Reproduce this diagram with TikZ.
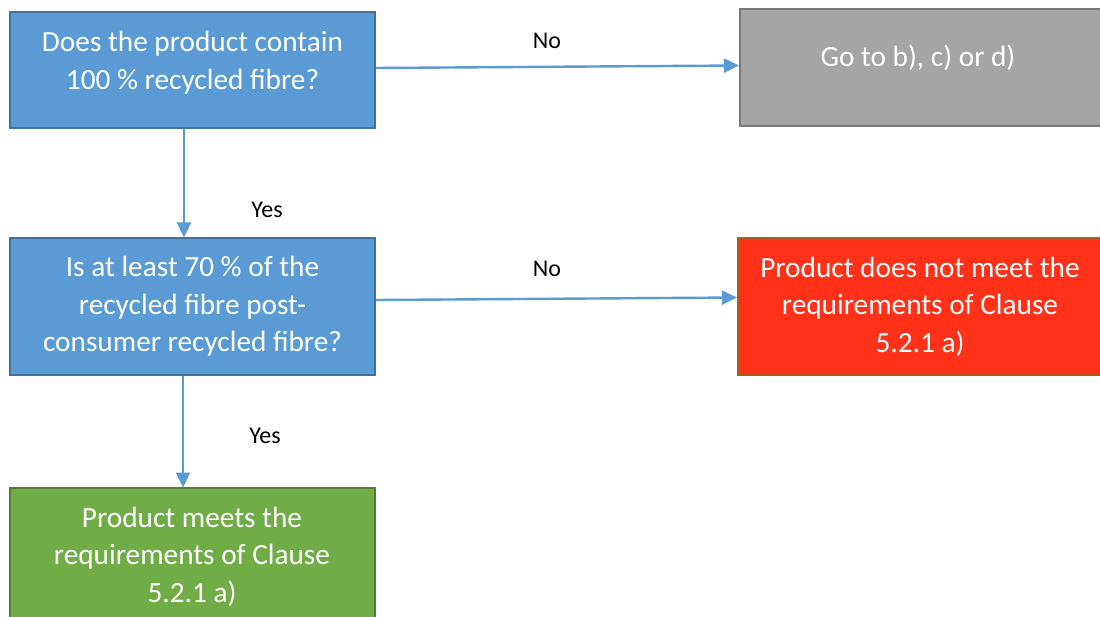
\documentclass[tikz,border=0pt]{standalone}
\usepackage{fontspec}
\setmainfont{Carlito}
\usetikzlibrary{arrows.meta}
\definecolor{bluefill}{HTML}{5B9BD5}
\definecolor{blueline}{HTML}{41719C}
\definecolor{grayfill}{HTML}{A5A5A5}
\definecolor{grayline}{HTML}{787878}
\definecolor{redfill}{HTML}{FF3118}
\definecolor{redline}{HTML}{AE5A21}
\definecolor{greenfill}{HTML}{70AD47}
\definecolor{greenline}{HTML}{507E32}
\definecolor{arrowcol}{HTML}{5B9BD5}
\tikzset{
  box/.style={draw, line width=1.5pt, inner sep=0pt},
  bluebox/.style={box, fill=bluefill, draw=blueline},
  graybox/.style={box, fill=grayfill, draw=grayline},
  redbox/.style={box, fill=redfill, draw=redline},
  greenbox/.style={box, fill=greenfill, draw=greenline},
  boxtext/.style={text=white, align=center, inner sep=0pt, font=\fontsize{29.3}{37.5}\selectfont},
  lbl/.style={text=black, inner sep=0pt, font=\fontsize{24}{28}\selectfont},
  conn/.style={draw=arrowcol, line width=2.4pt, -{Triangle[length=15pt,width=14pt]}}
}
\begin{document}
\begin{tikzpicture}[x=1pt,y=-1pt]
\useasboundingbox (0,0) rectangle (1100,617);
\clip (0,0) rectangle (1100,617);
\fill[white] (0,0) rectangle (1100,617);
% boxes
\node[bluebox, minimum width=365pt, minimum height=116pt] (q1) at (192.5,70) {};
\node[graybox, minimum width=370pt, minimum height=117pt] (go) at (925,67.5) {};
\node[bluebox, minimum width=365pt, minimum height=137pt] (q2) at (192.5,306.5) {};
\node[redbox, minimum width=372pt, minimum height=137pt] (no2) at (924,306.5) {};
\node[greenbox, minimum width=365pt, minimum height=140pt] (yes2) at (192.5,558) {};
% texts
\node[boxtext] (t1) at (192.5,62.5) {Does the product contain\\100 \% recycled fibre?};
\node[boxtext] (tgo) at (918,57.5) {Go to b), c) or d)};
\node[boxtext] (t2) at (192.5,306.5) {Is at least 70 \% of the\\recycled fibre post-\\consumer recycled fibre?};
\node[boxtext] (tno) at (920,306.5) {Product does not meet the\\requirements of Clause\\5.2.1 a)};
\node[boxtext] (tyes) at (192,556.5) {Product meets the\\requirements of Clause\\5.2.1 a)};
% connectors
\coordinate (a1s) at (376,68);
\coordinate (a1e) at (739,65.5);
\draw[conn] (a1s) -- (a1e);
\coordinate (a2s) at (184,129);
\coordinate (a2e) at (184,237.5);
\draw[conn] (a2s) -- (a2e);
\coordinate (a3s) at (376,300);
\coordinate (a3e) at (737,297.5);
\draw[conn] (a3s) -- (a3e);
\coordinate (a4s) at (183,376);
\coordinate (a4e) at (183,487.5);
\draw[conn] (a4s) -- (a4e);
% labels
\node[lbl] (l1) at (547,40.5) {No};
\node[lbl] (l2) at (267,209.5) {Yes};
\node[lbl] (l3) at (547,268.5) {No};
\node[lbl] (l4) at (265,435.5) {Yes};
\end{tikzpicture}
\end{document}
